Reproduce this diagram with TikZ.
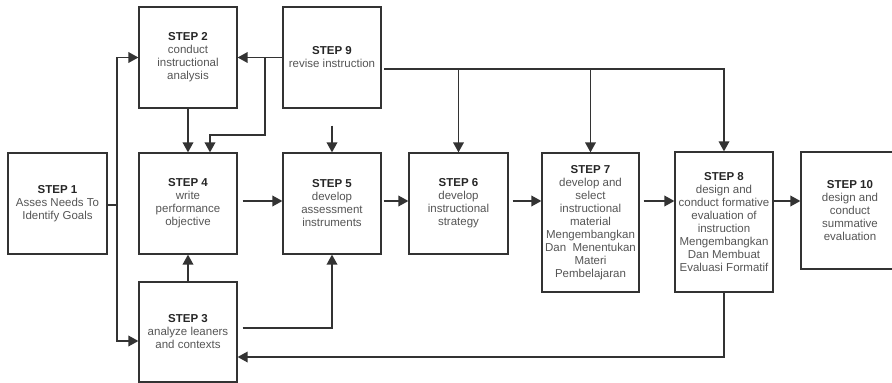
\documentclass[tikz,border=0pt]{standalone}
\usepackage{fontspec}
\setmainfont{Liberation Sans}
\usepackage{tikz}
\usetikzlibrary{calc, arrows.meta, positioning}

\definecolor{linegray}{HTML}{333333}
\definecolor{textgray}{HTML}{555555}
\newcommand{\stp}[1]{\textcolor{black!85}{\textbf{STEP #1}}}

\begin{document}
\begin{tikzpicture}[x=1pt, y=-1pt,
    stepbox/.style={draw=linegray, line width=1.2pt, inner sep=0.5pt,
        minimum width=98pt, minimum height=101pt, align=center,
        text=textgray, font=\fontsize{11.5}{13}\selectfont},
    arr/.style={-{Triangle[length=10pt,width=10.5pt]}, line width=1.8pt, draw=linegray},
    ln/.style={line width=1.8pt, draw=linegray}]
    \clip (0,0) rectangle (892,383);
    % boxes
    \node[stepbox, minimum width=99pt] (s1) at (57.5,203.5) {\stp{1}\\Asses Needs To\\Identify Goals};
    \node[stepbox] (s2) at (188,57.5) {\stp{2}\\conduct\\instructional\\analysis};
    \node[stepbox] (s4) at (188,203.5) {\stp{4}\\write\\performance\\objective};
    \node[stepbox, minimum height=100pt] (s3) at (188,332) {\stp{3}\\analyze leaners\\and contexts};
    \node[stepbox] (s9) at (332,57.5) {\stp{9}\\revise instruction};
    \node[stepbox] (s5) at (332,203.5) {\stp{5}\\develop\\assessment\\instruments};
    \node[stepbox, minimum width=99pt] (s6) at (458.5,203.5) {\stp{6}\\develop\\instructional\\strategy};
    \node[stepbox, minimum width=97pt, minimum height=139pt] (s7) at (590.5,222.5)
        {\stp{7}\\develop and\\select\\instructional\\material\\Mengembangkan\\Dan\ \ Menentukan\\Materi\\Pembelajaran};
    \node[stepbox, minimum height=140pt] (s8) at (724,222)
        {\stp{8}\\design and\\conduct formative\\evaluation of\\instruction\\Mengembangkan\\Dan Membuat\\Evaluasi Formatif};
    \node[stepbox, minimum height=117pt] (s10) at (850,210.5) {\stp{10}\\design and\\conduct\\summative\\evaluation};
    % junctions
    \coordinate (row) at (0,201);
    \coordinate (j1) at (117,205);
    \coordinate (j9) at (265,57.5);
    \coordinate (k4) at (210,135);
    \coordinate (r9) at (384,69);
    % step 1 to steps 2 and 3
    \draw[ln] (s1.east |- j1) -- (j1);
    \draw[arr] (j1) |- (s2.west);
    \draw[arr] (j1) |- ([yshift=-9pt]s3.west);
    % step 9 feedback
    \draw[arr] (s9.west) -- (s2.east);
    \draw[arr] (j9) |- (k4) -- (k4 |- s4.north);
    \draw[arr] (r9) -| (s8.north);
    \draw[arr] (s6.north |- r9) -- (s6.north);
    \draw[arr] (s7.north |- r9) -- (s7.north);
    \draw[arr] ([yshift=-17pt]s9.south) -- (s5.north);
    % main flow
    \draw[arr] (s2) -- (s4);
    \draw[arr] (s3) -- (s4);
    \draw[arr] ([xshift=5pt]s4.east |- row) -- (s5.west |- row);
    \draw[arr] ([xshift=2pt]s5.east |- row) -- (s6.west |- row);
    \draw[arr] ([xshift=4pt]s6.east |- row) -- (s7.west |- row);
    \draw[arr] ([xshift=4pt]s7.east |- row) -- (s8.west |- row);
    \draw[arr] (s8.east |- row) -- (s10.west |- row);
    \draw[arr] ([xshift=5pt,yshift=4pt]s3.east) -| (s5.south);
    \draw[arr] (s8.south) |- ([yshift=-25pt]s3.east);
\end{tikzpicture}
\end{document}
